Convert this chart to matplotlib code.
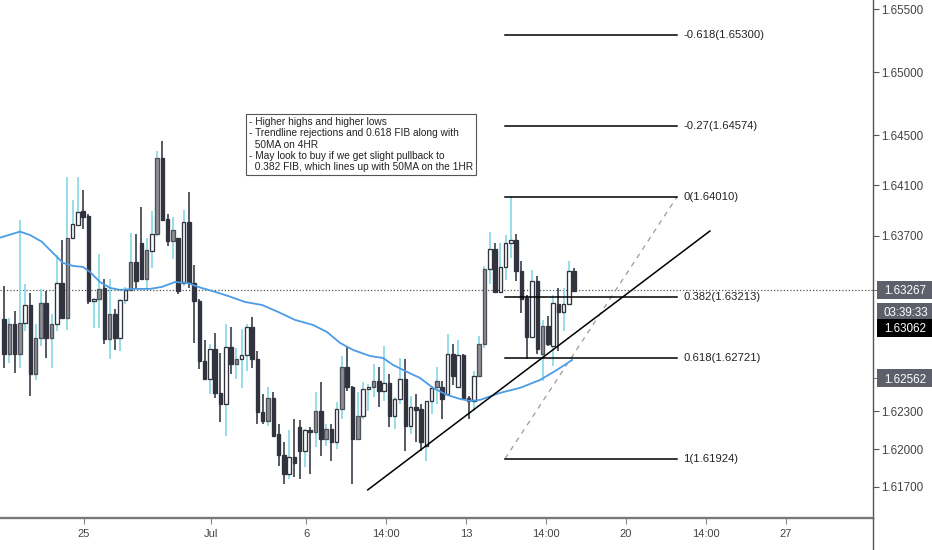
import matplotlib
matplotlib.use("Agg")
import matplotlib.pyplot as plt
from matplotlib.patches import Rectangle
from matplotlib.lines import Line2D
from matplotlib.transforms import IdentityTransform

plt.rcParams['font.family'] = ['Liberation Sans', 'DejaVu Sans']

# ---------------- data (4H candles) ----------------
opens = [1.63033, 1.62755, 1.62993, 1.62760, 1.63006, 1.63147, 1.62596, 1.62887, 1.63165, 1.62887,
         1.62998, 1.63324, 1.63046, 1.63677, 1.63783, 1.63894, 1.63854, 1.63179, 1.63192, 1.63279,
         1.62874, 1.63078, 1.62887, 1.63184, 1.63263, 1.63491, 1.63642, 1.63351, 1.63576, 1.63714,
         1.64318, 1.63828, 1.63656, 1.63677, 1.63324, 1.63807, 1.63324, 1.63179, 1.62702, 1.62556,
         1.62794, 1.62450, 1.62357, 1.62810, 1.62675, 1.62720, 1.62747, 1.62972, 1.62720, 1.62291,
         1.62225, 1.62406, 1.62119, 1.61955, 1.61801, 1.61934, 1.62173, 1.61982, 1.62154, 1.62133,
         1.62300, 1.62080, 1.62159, 1.62053, 1.62318, 1.62650, 1.62496, 1.62080, 1.62265, 1.62477,
         1.62491, 1.62544, 1.62464, 1.62522, 1.62265, 1.62398, 1.62557, 1.62186, 1.62332, 1.62318,
         1.62027, 1.62379, 1.62491, 1.62490, 1.62440, 1.62753, 1.62493, 1.62748, 1.62409, 1.62382,
         1.62581, 1.62833, 1.63437, 1.63596, 1.63251, 1.63447, 1.63641, 1.63667, 1.63416, 1.63203,
         1.62891, 1.63336, 1.62753, 1.62978, 1.62819, 1.63156, 1.63092, 1.63151, 1.63419]
highs = [1.63298, 1.63046, 1.63099, 1.63820, 1.63316, 1.63245, 1.62993, 1.63271, 1.63258, 1.63073,
         1.63544, 1.63661, 1.64164, 1.63979, 1.64164, 1.64066, 1.63868, 1.63205, 1.63555, 1.63351,
         1.63351, 1.63112, 1.63192, 1.63290, 1.63722, 1.63709, 1.63926, 1.63677, 1.63894, 1.64371,
         1.64456, 1.63873, 1.63846, 1.63682, 1.63907, 1.64045, 1.63462, 1.63192, 1.62866, 1.62834,
         1.62927, 1.62768, 1.62999, 1.62972, 1.62808, 1.62953, 1.62993, 1.63052, 1.62781, 1.62437,
         1.62490, 1.62451, 1.62199, 1.62053, 1.62151, 1.62239, 1.62231, 1.62159, 1.62173, 1.62451,
         1.62530, 1.62199, 1.62199, 1.62371, 1.62742, 1.62814, 1.62504, 1.62451, 1.62530, 1.62517,
         1.62676, 1.62650, 1.62822, 1.62597, 1.62411, 1.62724, 1.62716, 1.62424, 1.62438, 1.62358,
         1.62385, 1.62504, 1.62650, 1.62541, 1.62912, 1.62833, 1.62872, 1.62753, 1.62422, 1.62621,
         1.62899, 1.63455, 1.63728, 1.63641, 1.63641, 1.63707, 1.64012, 1.63712, 1.63495, 1.63225,
         1.63429, 1.63376, 1.63031, 1.63058, 1.63230, 1.63283, 1.63283, 1.63500, 1.63442]
lows = [1.62649, 1.62688, 1.62609, 1.62643, 1.62940, 1.62423, 1.62548, 1.62821, 1.62728, 1.62643,
        1.62940, 1.63040, 1.62945, 1.63669, 1.63780, 1.63748, 1.63152, 1.62967, 1.62961, 1.62834,
        1.62715, 1.62787, 1.62781, 1.63152, 1.63258, 1.63285, 1.63343, 1.63263, 1.63444, 1.63695,
        1.63815, 1.63616, 1.63510, 1.63237, 1.63298, 1.63285, 1.62847, 1.62635, 1.62550, 1.62437,
        1.62410, 1.62212, 1.62105, 1.62601, 1.62556, 1.62489, 1.62622, 1.62649, 1.62198, 1.62198,
        1.62185, 1.62093, 1.61868, 1.61722, 1.61762, 1.61775, 1.61762, 1.61855, 1.61802, 1.62013,
        1.61947, 1.62027, 1.61908, 1.62000, 1.62239, 1.62464, 1.61722, 1.62070, 1.62239, 1.62305,
        1.62411, 1.62332, 1.62385, 1.62173, 1.62159, 1.62358, 1.61987, 1.62119, 1.62053, 1.61987,
        1.61908, 1.62279, 1.62358, 1.62236, 1.62435, 1.62509, 1.62488, 1.62395, 1.62236, 1.62303,
        1.62575, 1.62806, 1.63310, 1.63243, 1.63243, 1.63349, 1.63522, 1.63336, 1.63084, 1.62713,
        1.62886, 1.62753, 1.62541, 1.62819, 1.62660, 1.62780, 1.62939, 1.63151, 1.63251]
closes = [1.62755, 1.62993, 1.62760, 1.63006, 1.63147, 1.62601, 1.62887, 1.63165, 1.62887, 1.62998,
          1.63324, 1.63046, 1.63677, 1.63788, 1.63889, 1.63846, 1.63179, 1.63192, 1.63271, 1.62874,
          1.63078, 1.62887, 1.63184, 1.63263, 1.63491, 1.63338, 1.63351, 1.63581, 1.63714, 1.64318,
          1.63820, 1.63656, 1.63743, 1.63258, 1.63807, 1.63324, 1.63179, 1.62702, 1.62556, 1.62794,
          1.62450, 1.62357, 1.62810, 1.62675, 1.62720, 1.62747, 1.62972, 1.62720, 1.62291, 1.62225,
          1.62405, 1.62106, 1.61955, 1.61801, 1.61939, 1.61886, 1.61987, 1.62151, 1.62138, 1.62300,
          1.62080, 1.62159, 1.62053, 1.62318, 1.62650, 1.62491, 1.62080, 1.62265, 1.62477, 1.62496,
          1.62544, 1.62464, 1.62522, 1.62265, 1.62398, 1.62557, 1.62186, 1.62332, 1.62310, 1.62053,
          1.62379, 1.62485, 1.62544, 1.62400, 1.62753, 1.62581, 1.62748, 1.62409, 1.62382, 1.62581,
          1.62833, 1.63437, 1.63596, 1.63251, 1.63447, 1.63641, 1.63667, 1.63416, 1.63198, 1.62891,
          1.63336, 1.62793, 1.62978, 1.62833, 1.63164, 1.63092, 1.63151, 1.63416, 1.63262]
# body look per candle: d = dark (down), w = hollow (up), g = grey (up)
body_style = ("dgdgwdggdgwdgwwddwgdgdwwgddg" + "wgddgdwddd" + "dwddwdgwwd" + "ddgdddwd"
              + "dwdgdgdwgd" + "dgwwgdwdww" + "dwddwwg" + "dwdwddwggw" + "dwwwdddwdg" + "dwdwwd")

# 50 MA readings (candle index, price)
ma_idx = [-0.76, 3.03, 4.92, 7.14, 9.28, 11.17, 13.07, 14.96, 16.29, 18.18, 20.08, 21.97, 24.43,
          27.65, 29.92, 32.39, 34.85, 36.74, 39.39, 42.42, 45.64, 48.86, 51.89, 55.11, 58.52,
          61.17, 63.64, 66.10, 69.32, 71.78, 73.67, 76.33, 78.79, 81.25, 83.90, 86.36, 88.26,
          90.15, 93.94, 97.73, 101.52, 104.73, 107.58]
ma_val = [1.63683, 1.63731, 1.63704, 1.63651, 1.63561, 1.63482, 1.63458, 1.63450, 1.63410, 1.63330,
          1.63283, 1.63267, 1.63275, 1.63275, 1.63291, 1.63330, 1.63322, 1.63291, 1.63259, 1.63219,
          1.63171, 1.63147, 1.63092, 1.63028, 1.62988, 1.62932, 1.62845, 1.62789, 1.62741, 1.62725,
          1.62670, 1.62614, 1.62566, 1.62487, 1.62431, 1.62399, 1.62383, 1.62391, 1.62447, 1.62487,
          1.62550, 1.62630, 1.62709]

# Fibonacci
fib_levels = ["-0.618", "-0.27", "0", "0.382", "0.618", "1"]
fib_prices = [1.65300, 1.64574, 1.64010, 1.63213, 1.62721, 1.61924]
fib_x = [94.9, 127.5]

# trendline (candle index, price)
trend_x = [68.9, 133.7]
trend_y = [1.61675, 1.63736]

last_price = 1.63267
countdown = "03:39:33"
tag2_price = 1.63062
tag3_price = 1.62562

xtick_pos = [15.15, 39.2, 57.2, 72.35, 87.5, 102.65, 117.8, 132.95, 148.1]
xtick_lbl = ["25", "Jul", "6", "14:00", "13", "14:00", "20", "14:00", "27"]
ytick_vals = [1.65500, 1.65000, 1.64500, 1.64100, 1.63700, 1.62300, 1.62000, 1.61700]

note = ("- Higher highs and higher lows\n"
        "- Trendline rejections and 0.618 FIB along with\n"
        "  50MA on 4HR\n"
        "- May look to buy if we get slight pullback to\n"
        "  0.382 FIB, which lines up with 50MA on the 1HR")

# ---------------- figure ----------------
W, H = 932, 550
fig = plt.figure(figsize=(W / 100, H / 100), dpi=100)
ax = fig.add_axes([0, 32 / H, 873 / W, 518 / H])
step = 5.28
ax.set_xlim(-4 / step, 869 / step)
ax.set_ylim(1.61451, 1.65575)

dark = '#31343e'
cyan = '#7fd6e4'
for i in range(len(opens)):
    o, h, l, c = opens[i], highs[i], lows[i], closes[i]
    st = body_style[i]
    wick_col = dark if st == 'd' else cyan
    ax.vlines(i, l, h, color=wick_col, lw=1.15, zorder=2)
    lo = min(o, c)
    hgt = max(abs(c - o), 0.00010)
    if st == 'd':
        fc, ec = dark, dark
    elif st == 'g':
        fc, ec = '#8e8f94', '#4f5158'
    else:
        fc, ec = 'white', dark
    ax.add_patch(Rectangle((i - 0.33, lo), 0.66, hgt, fc=fc, ec=ec, lw=0.95, zorder=3))

# moving average
ax.plot(ma_idx, ma_val, color='#4c9be6', lw=1.3, zorder=4)

# last price dotted line
ax.axhline(last_price, color='#555555', lw=0.9, ls=(0, (1, 1.6)), zorder=1)

# fib lines
for lv, p in zip(fib_levels, fib_prices):
    ax.plot(fib_x, [p, p], color='black', lw=1.1, zorder=5)
    ax.text(fib_x[1] + 1.1, p, f"{lv}({p:.5f})", fontsize=8.1, color='#222222',
            va='center', ha='left', zorder=6)
ax.plot(fib_x, [fib_prices[-1], fib_prices[2]], color='#9a9a9a', lw=0.9,
        ls=(0, (4, 4)), zorder=4)

# trendline
ax.plot(trend_x, trend_y, color='black', lw=1.1, zorder=5)

# annotation box
fig.text(249 / W, 1 - 117 / H, note, fontsize=7.3, color='#222222', va='top', ha='left',
         linespacing=1.16,
         bbox=dict(boxstyle='square,pad=0.25', fc='white', ec='#555555', lw=0.8))

# axes styling
for s in ['top', 'left']:
    ax.spines[s].set_visible(False)
ax.spines['bottom'].set_color('#7a7a7a')
ax.spines['bottom'].set_linewidth(1.7)
ax.spines['right'].set_color('#555555')
ax.spines['right'].set_linewidth(1.0)
ax.set_xticks(xtick_pos)
ax.set_xticklabels(xtick_lbl)
ax.tick_params(axis='x', length=4, color='#888888', labelsize=8, labelcolor='#444444', pad=4)
ax.yaxis.tick_right()
ax.set_yticks(ytick_vals)
ax.set_yticklabels([f"{v:.5f}" for v in ytick_vals])
ax.tick_params(axis='y', length=4, color='#555555', labelsize=8.4, labelcolor='#444444', pad=2)
ax.set_yticks([last_price, tag3_price], minor=True)
ax.tick_params(axis='y', which='minor', length=4, color='#555555')

fig.add_artist(Line2D([873 / W, 873 / W], [0, 32 / H], transform=fig.transFigure,
                      color='#555555', lw=1.0))

# price tags (boxes run from the axis to the figure edge)
def tag(price, text, color, off):
    yd = ax.transData.transform((0, price))[1] + off
    fig.add_artist(Rectangle((877, yd - 9), W - 877, 18, transform=IdentityTransform(),
                             fc=color, ec='none', zorder=10))
    fig.text(877 + (W - 877) / 2 + 1, yd, text, transform=IdentityTransform(),
             ha='center', va='center_baseline', color='white', fontsize=8.4, zorder=11)

tag(last_price, f"{last_price:.5f}", '#5d606b', 0)
tag(last_price, countdown, '#5d606b', -22)
tag(tag2_price, f"{tag2_price:.5f}", '#000000', -12)
tag(tag3_price, f"{tag3_price:.5f}", '#5d606b', 0)

fig.savefig('out.png', dpi=100)
